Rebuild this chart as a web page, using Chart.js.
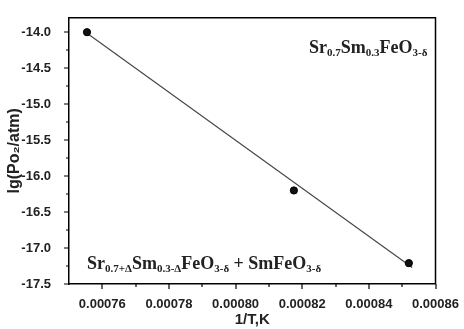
<!DOCTYPE html>
<html><head><meta charset="utf-8">
<script src="https://cdn.jsdelivr.net/npm/chart.js@4/dist/chart.umd.min.js"></script>
<style>html,body{margin:0;padding:0;background:#fff;overflow:hidden}</style>
</head><body><canvas id="c" width="464" height="329"></canvas>
<script>
// ---- data ----
const invT = [0.0007554, 0.0008175, 0.000852];
const lgPO2 = [-14.0, -16.2, -17.21];
const fitInvT = [0.000755, 0.000853];
const fitLgPO2 = [-14.0, -17.27];
const xTicks = [0.00076, 0.00078, 0.00080, 0.00082, 0.00084, 0.00086];
const xMinorTicks = [0.00077, 0.00079, 0.00081, 0.00083, 0.00085];
const yTicks = [-17.5, -17.0, -16.5, -16.0, -15.5, -15.0, -14.5, -14.0];
const yMinorTicks = [-17.25, -16.75, -16.25, -15.75, -15.25, -14.75, -14.25];
const xTitle = '1/T,K';
const yTitle = 'lg(Po₂/atm)';
const label1 = [['Sr',0],['0.7',1],['Sm',0],['0.3',1],['FeO',0],['3-δ',1]];
const label2 = [['Sr',0],['0.7+Δ',1],['Sm',0],['0.3-Δ',1],['FeO',0],['3-δ',1],[' + SmFeO',0],['3-δ',1]];

const MAIN_FONT = 'bold 18px "Liberation Serif", "Times New Roman", serif';
const SUB_FONT = 'bold 11px "Liberation Serif", "Times New Roman", serif';

function drawRich(ctx, parts, x, y) {
  ctx.save();
  ctx.fillStyle = '#222';
  ctx.textBaseline = 'alphabetic';
  ctx.textAlign = 'left';
  for (const [t, sub] of parts) {
    ctx.font = sub ? SUB_FONT : MAIN_FONT;
    ctx.fillText(t, x, sub ? y + 3 : y);
    x += ctx.measureText(t).width;
  }
  ctx.restore();
}

const framePlugin = {
  id: 'frame',
  afterDraw(chart) {
    const {ctx, chartArea: a, scales: {x, y}} = chart;
    ctx.save();
    ctx.strokeStyle = '#000';
    ctx.lineWidth = 1.5;
    ctx.beginPath();
    ctx.moveTo(a.left, a.top); ctx.lineTo(a.right, a.top); ctx.lineTo(a.right, a.bottom);
    ctx.stroke();
    ctx.lineWidth = 1.2;
    ctx.beginPath();
    for (const v of xTicks) { const px = Math.round(x.getPixelForValue(v)); ctx.moveTo(px, a.bottom); ctx.lineTo(px, a.bottom + 5); }
    for (const v of xMinorTicks) { const px = Math.round(x.getPixelForValue(v)); ctx.moveTo(px, a.bottom); ctx.lineTo(px, a.bottom + 3); }
    for (const v of yTicks) { const py = Math.round(y.getPixelForValue(v)); ctx.moveTo(a.left, py); ctx.lineTo(a.left - 5, py); }
    for (const v of yMinorTicks) { const py = Math.round(y.getPixelForValue(v)); ctx.moveTo(a.left, py); ctx.lineTo(a.left - 3, py); }
    ctx.stroke();
    ctx.restore();
    drawRich(ctx, label1, a.left + 240, a.top + 35);
    drawRich(ctx, label2, a.left + 18, a.top + 251);
  }
};

new Chart(document.getElementById('c'), {
  type: 'scatter',
  data: {
    datasets: [
      {
        type: 'line',
        data: fitInvT.map((v, i) => ({x: v, y: fitLgPO2[i]})),
        borderColor: '#444',
        borderWidth: 1.1,
        pointRadius: 0,
        fill: false,
        order: 2
      },
      {
        data: invT.map((v, i) => ({x: v, y: lgPO2[i]})),
        backgroundColor: '#111',
        borderColor: '#000',
        borderWidth: 1,
        pointRadius: 3.6,
        order: 1
      }
    ]
  },
  options: {
    responsive: false,
    animation: false,
    devicePixelRatio: 1,
    layout: {padding: {top: 10, right: 24, left: 0, bottom: 0}},
    plugins: {legend: {display: false}, tooltip: {enabled: false}},
    scales: {
      x: {
        type: 'linear',
        min: 0.00075, max: 0.00086,
        afterBuildTicks(s) { s.ticks = xTicks.map(v => ({value: v})); },
        afterFit(s) { s.height = 45; },
        grid: {display: false},
        border: {display: true, color: '#000', width: 1.5},
        ticks: {
          padding: 5, color: '#222',
          font: {family: 'Liberation Sans, Arial, sans-serif', weight: 'bold', size: 13},
          callback: v => v.toFixed(5), maxRotation: 0, autoSkip: false
        },
        title: {display: true, text: xTitle, color: '#222', padding: {top: 0, bottom: 0},
          font: {family: 'Liberation Sans, Arial, sans-serif', weight: 'bold', size: 15, lineHeight: 1.2}}
      },
      y: {
        type: 'linear',
        min: -17.5, max: -13.8,
        afterBuildTicks(s) { s.ticks = yTicks.map(v => ({value: v})); },
        afterFit(s) { s.width = 69; },
        grid: {display: false},
        border: {display: true, color: '#000', width: 1.5},
        ticks: {
          padding: 10, color: '#222',
          font: {family: 'Liberation Sans, Arial, sans-serif', weight: 'bold', size: 13},
          callback: v => v.toFixed(1), autoSkip: false
        },
        title: {display: true, text: yTitle, color: '#222', padding: {top: 5, bottom: 0},
          font: {family: 'Liberation Sans, Arial, sans-serif', weight: 'bold', size: 16, lineHeight: 1.2}}
      }
    }
  },
  plugins: [framePlugin]
});
</script>
</body></html>
